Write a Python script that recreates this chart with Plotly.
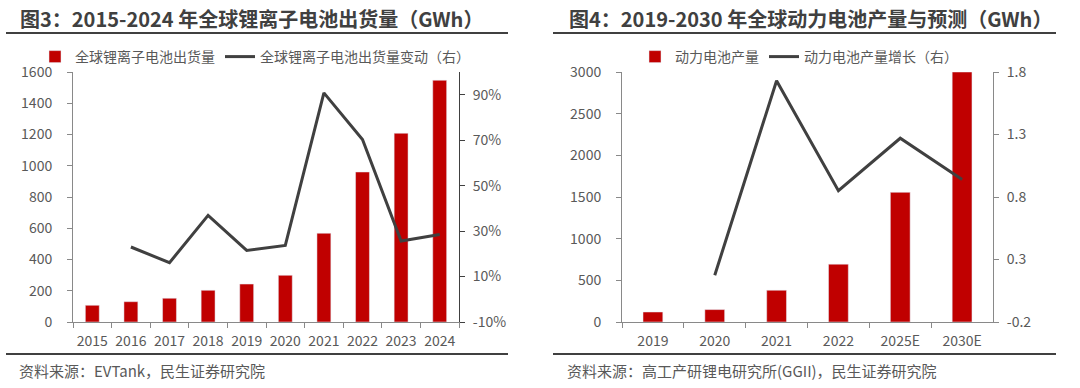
import plotly.graph_objects as go

# ---- Left chart data ----
years_l = ["2015", "2016", "2017", "2018", "2019", "2020", "2021", "2022", "2023", "2024"]
shipments = [107, 130, 152, 203, 243, 299, 568, 960, 1208, 1547]
ship_growth = [None, 0.23, 0.161, 0.369, 0.215, 0.237, 0.908, 0.703, 0.256, 0.285]

# ---- Right chart data ----
years_r = ["2019", "2020", "2021", "2022", "2025E", "2030E"]
power_output = [120, 149, 381, 694, 1556, 3000]
power_growth = [None, 0.174, 1.73, 0.85, 1.27, 0.94]

left_ticks = [0, 200, 400, 600, 800, 1000, 1200, 1400, 1600]
left_pct_ticks = [-0.1, 0.1, 0.3, 0.5, 0.7, 0.9]
right_ticks = [0, 500, 1000, 1500, 2000, 2500, 3000]
right_growth_ticks = [-0.2, 0.3, 0.8, 1.3, 1.8]

RED = "#c00000"
LINE = "#404040"
TXT = "#595959"
FONT = "Noto Sans CJK SC"
W, H = 1080, 388

def px(x):
    return x / W

def py(y):
    return 1 - y / H

fig = go.Figure()

fig.add_trace(go.Bar(x=years_l, y=shipments, name="全球锂离子电池出货量",
                     marker_color=RED, width=0.36, xaxis="x", yaxis="y",
                     legend="legend"))
fig.add_trace(go.Scatter(x=years_l, y=ship_growth, name="全球锂离子电池出货量变动（右）",
                         mode="lines", line=dict(color=LINE, width=3),
                         xaxis="x", yaxis="y2", legend="legend"))
fig.add_trace(go.Bar(x=years_r, y=power_output, name="动力电池产量",
                     marker_color=RED, width=0.32, xaxis="x2", yaxis="y3",
                     legend="legend2"))
fig.add_trace(go.Scatter(x=years_r, y=power_growth, name="动力电池产量增长（右）",
                         mode="lines", line=dict(color=LINE, width=3),
                         xaxis="x2", yaxis="y4", legend="legend2"))

ydom = [py(322), py(72)]
axis_common = dict(showgrid=False, zeroline=False, showline=True, tickangle=0,
                   automargin=False, ticks="outside", ticklen=5,
                   tickfont=dict(size=14, color=TXT, family=FONT))

fig.update_layout(
    width=W, height=H,
    margin=dict(l=0, r=0, t=0, b=0, autoexpand=False),
    paper_bgcolor="white", plot_bgcolor="white",
    font=dict(family=FONT, color=TXT),
    xaxis=dict(domain=[px(73), px(459)], type="category", tickson="boundaries",
               ticklabelstandoff=6,
               linecolor="#898989", tickcolor="#898989", anchor="y", **axis_common),
    yaxis=dict(domain=ydom, range=[0, 1600], tickvals=left_ticks, ticklabelstandoff=12,
               linecolor="#898989", tickcolor="#898989", anchor="x", **axis_common),
    yaxis2=dict(range=[-0.1, 1.0], tickvals=left_pct_ticks,
                ticktext=[f"{round(v * 100)}%" for v in left_pct_ticks],
                overlaying="y", side="right", anchor="x", ticklabelstandoff=5,
                linecolor="#404040", tickcolor="#404040", **axis_common),
    xaxis2=dict(domain=[px(622), px(993)], type="category", tickson="boundaries",
                ticklabelstandoff=6,
                linecolor="#898989", tickcolor="#898989", anchor="y3", **axis_common),
    yaxis3=dict(domain=ydom, range=[0, 3000], tickvals=right_ticks, ticklabelstandoff=12,
                linecolor="#898989", tickcolor="#898989", anchor="x2", **axis_common),
    yaxis4=dict(range=[-0.2, 1.8], tickvals=right_growth_ticks,
                ticktext=[f"{v:.1f}" for v in right_growth_ticks],
                overlaying="y3", side="right", anchor="x2", ticklabelstandoff=5,
                linecolor="#898989", tickcolor="#898989", **axis_common),
    legend=dict(orientation="h", x=px(35), y=py(57), xanchor="left", yanchor="middle",
                font=dict(size=14, color=TXT, family=FONT),
                traceorder="normal", bgcolor="rgba(0,0,0,0)"),
    legend2=dict(orientation="h", x=px(635), y=py(57), xanchor="left", yanchor="middle",
                 font=dict(size=14, color=TXT, family=FONT),
                 traceorder="normal", bgcolor="rgba(0,0,0,0)"),
    showlegend=True,
)

# Titles
fig.add_annotation(text="<b>图3：2015-2024 年全球锂离子电池出货量（GWh）</b>",
                   x=px(18), y=py(18), xref="paper", yref="paper", xanchor="left",
                   yanchor="middle", showarrow=False,
                   font=dict(size=20, color="#404040", family=FONT))
fig.add_annotation(text="<b>图4：2019-2030 年全球动力电池产量与预测（GWh）</b>",
                   x=px(567), y=py(18), xref="paper", yref="paper", xanchor="left",
                   yanchor="middle", showarrow=False,
                   font=dict(size=20, color="#404040", family=FONT))
# Sources
fig.add_annotation(text="资料来源：EVTank，民生证券研究院",
                   x=px(17), y=py(370), xref="paper", yref="paper", xanchor="left",
                   yanchor="middle", showarrow=False,
                   font=dict(size=15, color=TXT, family=FONT))
fig.add_annotation(text="资料来源：高工产研锂电研究所(GGII)，民生证券研究院",
                   x=px(565), y=py(370), xref="paper", yref="paper", xanchor="left",
                   yanchor="middle", showarrow=False,
                   font=dict(size=15, color=TXT, family=FONT))

# Rules
for x0, x1 in [(6, 508), (553, 1056)]:
    for yy in (33, 354):
        fig.add_shape(type="line", xref="paper", yref="paper",
                      x0=px(x0), x1=px(x1), y0=py(yy), y1=py(yy),
                      line=dict(color="#404040", width=2))

fig.write_html("out.html", config={"displayModeBar": False},
               post_script="document.body.style.margin='0';document.body.style.overflow='hidden';")
